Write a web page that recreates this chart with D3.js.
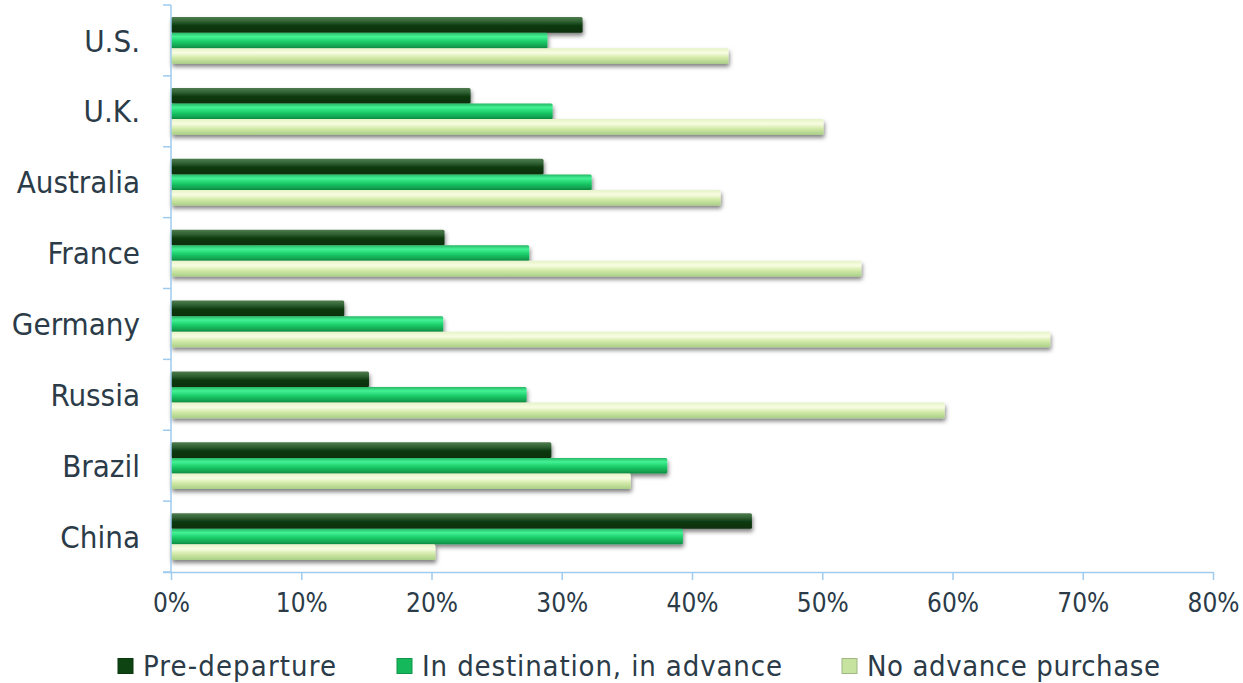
<!DOCTYPE html>
<html>
<head>
<meta charset="utf-8">
<script src="https://cdn.jsdelivr.net/npm/d3@7"></script>
<style>
  html, body { margin: 0; padding: 0; background: #fff; }
  svg { display: block; }
  text { font-family: "DejaVu Sans Condensed", "DejaVu Sans", sans-serif; font-stretch: condensed; fill: #2b3b48; }
</style>
</head>
<body>
<svg id="chart" width="1243" height="683"></svg>
<script>
const categories = ["U.S.", "U.K.", "Australia", "France", "Germany", "Russia", "Brazil", "China"];
const seriesNames = ["Pre-departure", "In destination, in advance", "No advance purchase"];
const preDeparture = [31.6, 23.0, 28.6, 21.0, 13.3, 15.2, 29.2, 44.6];
const inDestination = [28.9, 29.3, 32.3, 27.5, 20.9, 27.3, 38.1, 39.3];
const noAdvance = [42.8, 50.1, 42.2, 53.0, 67.5, 59.4, 35.3, 20.3];
const xTicks = [0, 10, 20, 30, 40, 50, 60, 70, 80];

const seriesValues = [preDeparture, inDestination, noAdvance];
const gradStops = [
  [["0", "#4f7d4f"], ["0.3", "#2e5f31"], ["0.55", "#0d3a10"], ["1", "#0a300c"]],
  [["0", "#26b765"], ["0.25", "#44f295"], ["0.55", "#1ccf6b"], ["1", "#0e8e44"]],
  [["0", "#e6f3c7"], ["0.3", "#f8fde2"], ["0.6", "#d3eaa9"], ["1", "#a9cf86"]]
];
const legendColors = ["#0e4412", "#16b85c", "#c6e3a0"];

const svg = d3.select("#chart");
const defs = svg.append("defs");
gradStops.forEach((stops, i) => {
  const g = defs.append("linearGradient").attr("id", "g" + i)
    .attr("x1", 0).attr("y1", 0).attr("x2", 0).attr("y2", 1);
  stops.forEach(s => g.append("stop").attr("offset", s[0]).attr("stop-color", s[1]));
});
const f = defs.append("filter").attr("id", "shadow")
  .attr("x", "-5%").attr("y", "-50%").attr("width", "110%").attr("height", "250%");
f.append("feDropShadow").attr("dx", 1).attr("dy", 3).attr("stdDeviation", 2)
  .attr("flood-color", "#000").attr("flood-opacity", 0.5);

const x = d3.scaleLinear().domain([0, 80]).range([171, 1213]);
const y0 = d3.scaleBand().domain(categories).range([5, 572]).paddingInner(0.34).paddingOuter(0.17);
const y1 = d3.scaleBand().domain(seriesNames).range([0, y0.bandwidth()]);

const axisColor = "#9fcbee";

// bars
categories.forEach((c, ci) => {
  const g = svg.append("g").attr("transform", `translate(0,${y0(c)})`);
  seriesNames.forEach((s, si) => {
    const v = seriesValues[si][ci];
    g.append("rect")
      .attr("x", x(0))
      .attr("y", y1(s))
      .attr("width", x(v) - x(0))
      .attr("height", y1.bandwidth())
      .attr("rx", 1.5)
      .attr("fill", `url(#g${si})`)
      .attr("filter", "url(#shadow)");
  });
});

// y axis line and ticks
svg.append("line").attr("x1", x(0)).attr("x2", x(0))
  .attr("y1", y0.range()[0]).attr("y2", y0.range()[1])
  .attr("stroke", axisColor).attr("stroke-width", 1.5);
d3.range(categories.length + 1).forEach(i => {
  const yy = y0.range()[0] + i * y0.step();
  svg.append("line").attr("x1", x(0) - 8).attr("x2", x(0))
    .attr("y1", yy).attr("y2", yy).attr("stroke", axisColor).attr("stroke-width", 1.5);
});

// x axis
const xAxis = d3.axisBottom(x).tickValues(xTicks).tickFormat(d => d + "%").tickSize(8).tickPadding(14);
const xg = svg.append("g").attr("transform", `translate(0,${y0.range()[1]})`).call(xAxis);
xg.select(".domain").attr("stroke", axisColor).attr("stroke-width", 1.5)
  .attr("d", `M${x(0) - 8},0.5H${x(80)}`);
xg.selectAll(".tick line").attr("stroke", axisColor).attr("stroke-width", 1.5);
xg.selectAll(".tick text").attr("font-size", 26).attr("fill", "#2b3b48")
  .style("font-family", '"DejaVu Sans Condensed", "DejaVu Sans", sans-serif');

// y labels
categories.forEach(c => {
  svg.append("text")
    .attr("x", 140)
    .attr("y", y0(c) + y0.bandwidth() / 2)
    .attr("dy", "0.36em")
    .attr("text-anchor", "end")
    .attr("font-size", 31)
    .text(c);
});

// legend
const legendX = [118, 397, 842];
const legendTextLen = [193, 360, 293];
seriesNames.forEach((s, i) => {
  const lg = svg.append("g").attr("transform", `translate(${legendX[i]},666)`);
  lg.append("rect").attr("x", 0).attr("y", -7.5).attr("width", 15).attr("height", 15)
    .attr("fill", legendColors[i]).attr("stroke", d3.color(legendColors[i]).darker(0.6)).attr("stroke-width", 1);
  lg.append("text").attr("x", 25).attr("dy", "0.36em").attr("font-size", 29)
    .attr("textLength", legendTextLen[i]).attr("lengthAdjust", "spacing").text(s);
});
</script>
</body>
</html>
